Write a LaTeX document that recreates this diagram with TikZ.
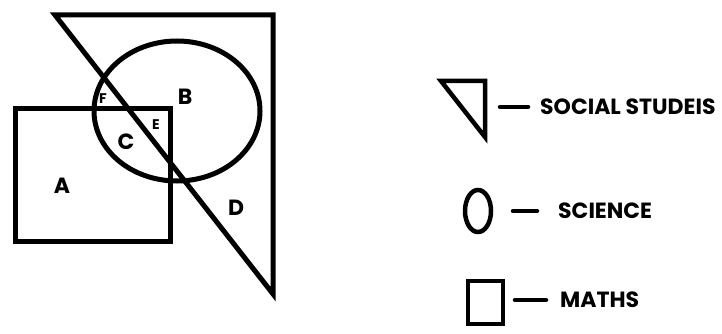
\documentclass[tikz,border=0pt]{standalone}
\usepackage{fontspec}
\newfontfamily\gothic{Poppins}
\usetikzlibrary{positioning}

\tikzset{
  shape line/.style={line width=5pt, line join=miter, line cap=butt},
  key line/.style={line width=4.5pt, line cap=round},
  region/.style={inner sep=0pt, font=\gothic\bfseries\fontsize{22}{26}\selectfont},
  small region/.style={inner sep=0pt, font=\gothic\bfseries\fontsize{14}{16}\selectfont},
  key text/.style={anchor=west, inner sep=0pt, font=\gothic\bfseries\fontsize{22}{26}\selectfont},
}

\begin{document}
\begin{tikzpicture}[x=1pt, y=-1pt]

  %% ════ background ════
  \fill[white] (0,0) rectangle (722,334);

  %% ════ triangle (social studies) ════
  \draw[shape line] (55,15) -- (273,15) -- (273,294) -- cycle;

  %% ════ ellipse (science) ════
  \draw[shape line] (177,111) ellipse (83 and 70);

  %% ════ square (maths) ════
  \draw[shape line] (15,109) rectangle (170,241);

  %% ════ region labels ════
  \node[region] (A) at (62,186) {A};
  \node[region] (B) at (185,97) {B};
  \node[region] (C) at (126,142) {C};
  \node[region] (D) at (236,208) {D};
  \node[small region] (E) at (156,125) {E};
  \node[small region] (F) at (103,99) {F};

  %% ════ legend ════
  \draw[shape line, line width=4.5pt] (441,81) -- (485,81) -- (485,137) -- cycle;
  \draw[shape line, line width=4.5pt] (478,211) ellipse (13 and 21);
  \draw[shape line, line width=4.5pt] (468,281) rectangle (503,324);

  \node[key text] (soc) at (540,107) {SOCIAL STUDEIS};
  \node[key text] (sci) at (558,211) {SCIENCE};
  \node[key text] (mat) at (560,300) {MATHS};

  \draw[key line] ([xshift=-40pt]soc.west) -- ([xshift=-12pt]soc.west);
  \draw[key line] ([xshift=-45pt]sci.west) -- ([xshift=-21pt]sci.west);
  \draw[key line] ([xshift=-45pt]mat.west) -- ([xshift=-14pt]mat.west);

  % pin the canvas
  \pgfresetboundingbox
  \path[use as bounding box] (0,0) rectangle (722,334);
\end{tikzpicture}
\end{document}
